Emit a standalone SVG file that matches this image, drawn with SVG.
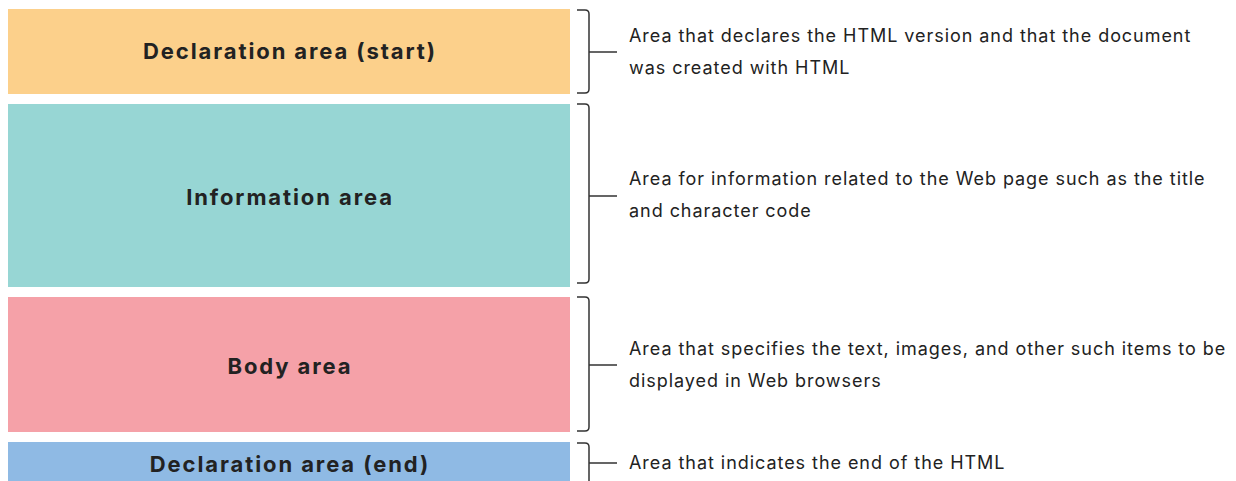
<svg xmlns="http://www.w3.org/2000/svg" width="1236" height="481" viewBox="0 0 1236 481">
<style>
.lbl{font-family:Inter,"Liberation Sans",Arial,sans-serif;font-weight:bold;font-size:22px;fill:#222;text-anchor:middle;letter-spacing:1.9px}
.desc{font-family:Inter,"Liberation Sans",Arial,sans-serif;font-size:18px;fill:#222;letter-spacing:0.95px}
.br{fill:none;stroke:#333;stroke-width:1.5}
</style>
<rect width="1236" height="481" fill="#fff"/>
<g id="decl-start">
<rect x="8" y="9" width="562" height="85" fill="#fcd08b"/>
<text class="lbl" x="290" y="59">Declaration area (start)</text>
</g>
<g id="info">
<rect x="8" y="104" width="562" height="183" fill="#97d6d4"/>
<text class="lbl" x="290" y="205">Information area</text>
</g>
<g id="body">
<rect x="8" y="297" width="562" height="135" fill="#f5a1a8"/>
<text class="lbl" x="290" y="374">Body area</text>
</g>
<g id="decl-end">
<rect x="8" y="442" width="562" height="45" fill="#8fbae4"/>
<text class="lbl" x="290" y="472">Declaration area (end)</text>
</g>
<g id="connectors">
<path class="br" d="M577,10 H585 Q589,10 589,14 V89 Q589,93 585,93 H577 M589,52 H617"/>
<path class="br" d="M577,104 H585 Q589,104 589,108 V279 Q589,283 585,283 H577 M589,196 H617"/>
<path class="br" d="M577,297 H585 Q589,297 589,301 V427 Q589,431 585,431 H577 M589,365 H617"/>
<path class="br" d="M577,443 H585 Q589,443 589,447 V490 M589,463 H617"/>
</g>
<g id="descs">
<text class="desc" x="629" y="42">Area that declares the HTML version and that the document</text>
<text class="desc" x="629" y="74">was created with HTML</text>
<text class="desc" x="629" y="185">Area for information related to the Web page such as the title</text>
<text class="desc" x="629" y="217">and character code</text>
<text class="desc" x="629" y="355">Area that specifies the text, images, and other such items to be</text>
<text class="desc" x="629" y="387">displayed in Web browsers</text>
<text class="desc" x="629" y="469">Area that indicates the end of the HTML</text>
</g>
</svg>
